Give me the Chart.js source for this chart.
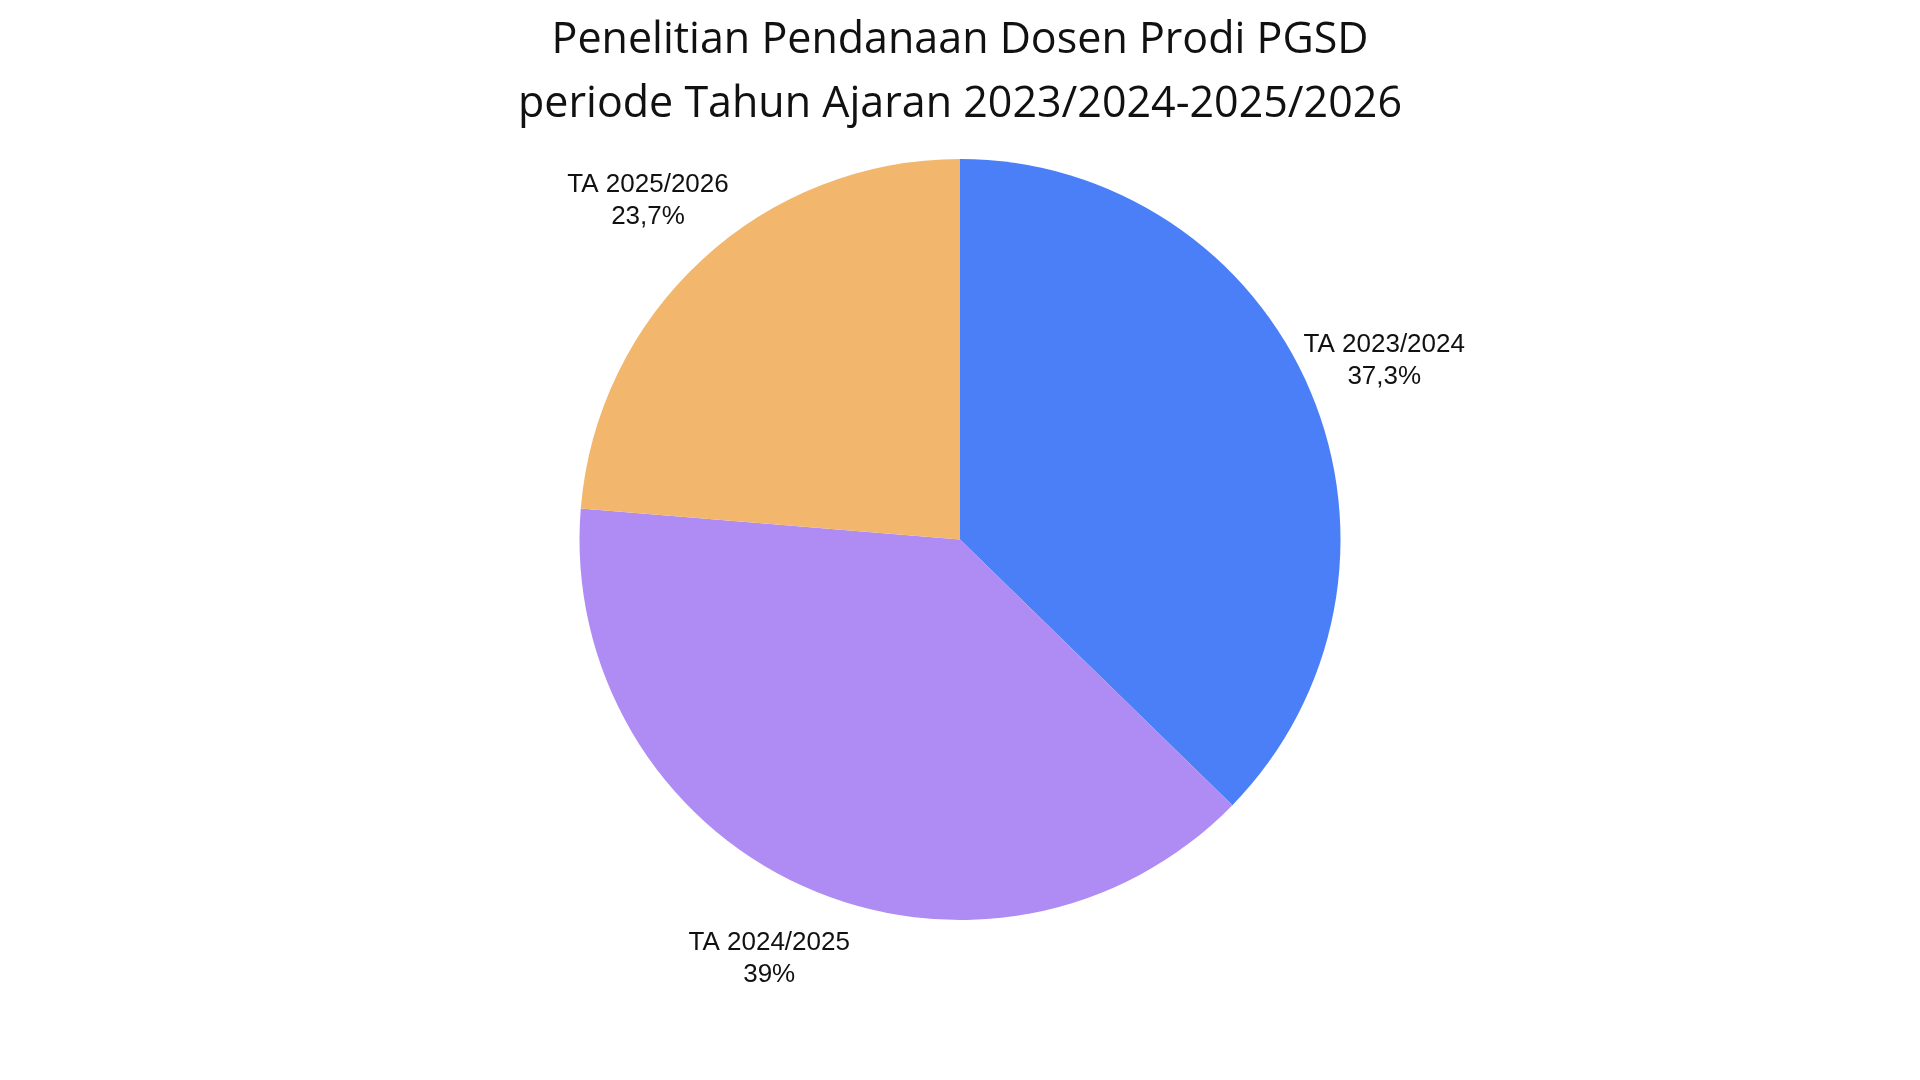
<!DOCTYPE html>
<html><head><meta charset="utf-8">
<script src="https://cdn.jsdelivr.net/npm/chart.js@4"></script>
<style>html,body{margin:0;padding:0;background:#fff}#wrap{width:1920px;height:1080px}</style>
</head><body><div id="wrap"><canvas id="c"></canvas></div>
<script>
const categories = ["TA 2023/2024", "TA 2024/2025", "TA 2025/2026"];
const values = [37.3, 39, 23.7];
const valueLabels = ["37,3%", "39%", "23,7%"];
const colors = ["#4a7ff7", "#ae8cf4", "#f2b76c"];

const labelPlugin = {
  id: 'outLabels',
  afterDatasetsDraw(chart) {
    const ctx = chart.ctx;
    const meta = chart.getDatasetMeta(0);
    ctx.save();
    ctx.font = '26px "Liberation Sans", Arial, sans-serif';
    ctx.fillStyle = '#111';
    ctx.textAlign = 'center';
    ctx.textBaseline = 'middle';
    meta.data.forEach((arc, i) => {
      const p = arc.getProps(['x','y','startAngle','endAngle','outerRadius'], true);
      const a = (p.startAngle + p.endAngle) / 2;
      const r = p.outerRadius * 1.21;
      const x = p.x + Math.cos(a) * r, y = p.y + Math.sin(a) * r;
      ctx.fillText(categories[i], x, y - 16);
      ctx.fillText(valueLabels[i], x, y + 16);
    });
    ctx.restore();
  }
};

new Chart(document.getElementById('c'), {
  type: 'pie',
  data: { labels: categories, datasets: [{ data: values, backgroundColor: colors, borderWidth: 0 }] },
  options: {
    responsive: true, maintainAspectRatio: false, animation: false,
    layout: { padding: { top: 0, bottom: 160 } },
    plugins: {
      legend: { display: false },
      tooltip: { enabled: false },
      title: {
        display: true,
        text: ["Penelitian Pendanaan Dosen Prodi PGSD", "periode Tahun Ajaran 2023/2024-2025/2026"],
        font: { family: '"Open Sans", sans-serif', size: 43, weight: 'normal', lineHeight: 1.5 },
        color: '#111',
        padding: { top: 8, bottom: 22 }
      }
    }
  },
  plugins: [labelPlugin]
});
</script></body></html>
